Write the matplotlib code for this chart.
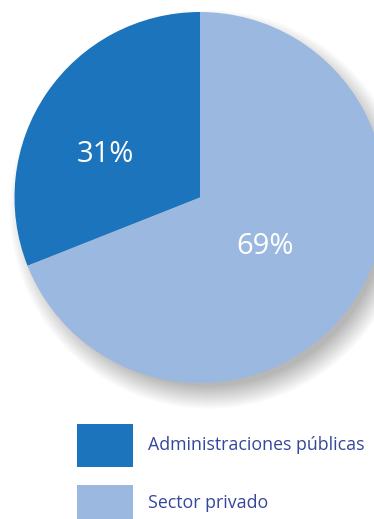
import numpy as np
import matplotlib.pyplot as plt
from matplotlib.patches import Circle, Rectangle

# Datos
categorias = ['Administraciones públicas', 'Sector privado']
valores = [31, 69]
etiquetas = ['31%', '69%']
colores = ['#1c75bc', '#9bb8e0']
color_texto = '#34479a'

W, H = 374, 519
fig = plt.figure(figsize=(W / 100, H / 100), dpi=100)
ax = fig.add_axes([0, 0, 1, 1])

cx, cy, r = 200, H - 197.5, 185.5

# sombra difusa
for k in range(24):
    ax.add_patch(Circle((cx + 9, cy - 12), r + 14 - k * 1.0, color='#000000',
                        alpha=0.011, lw=0, zorder=0))

wedges, _ = ax.pie(valores, colors=colores, startangle=90, counterclock=True,
                   center=(cx, cy), radius=r,
                   wedgeprops=dict(linewidth=0, zorder=2))

# etiquetas de porcentaje
pos_etiq = [(105, 155), (265, 247)]
for (x, y), t in zip(pos_etiq, etiquetas):
    ax.text(x, H - y, t, color='white', fontsize=21, family='Open Sans',
            ha='center', va='center', zorder=3)

# leyenda
filas = [(424, 467), (485, 522)]
for (y0, y1), cat, col in zip(filas, categorias, colores):
    ax.add_patch(Rectangle((77, H - y1), 56, y1 - y0, color=col, lw=0, zorder=3))
    ax.text(148, H - (y0 + y1) / 2 + 1, cat, color=color_texto, fontsize=12.8,
            family='Open Sans', ha='left', va='center', zorder=3)

ax.set_xlim(0, W)
ax.set_ylim(0, H)
ax.set_aspect('auto')
ax.axis('off')

fig.savefig('out.png', dpi=100)
